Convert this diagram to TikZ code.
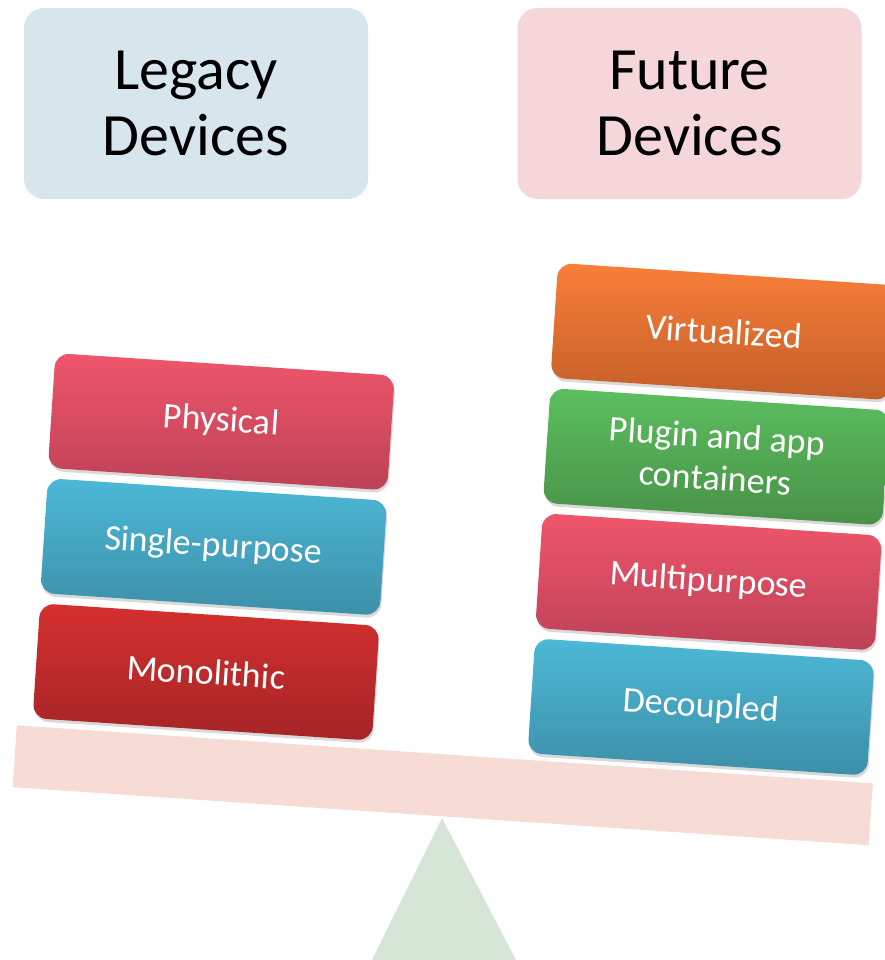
\documentclass[tikz,border=0pt]{standalone}
\usepackage{fontspec}
\setmainfont{Carlito}
\usetikzlibrary{shadows, positioning}

\definecolor{legacybg}{HTML}{D6E6EC}
\definecolor{futurebg}{HTML}{F5D6D9}
\definecolor{beamfill}{HTML}{F6DCD5}
\definecolor{fulcrumfill}{HTML}{D5E6D6}
\definecolor{rosetop}{HTML}{F0566B}
\definecolor{rosebot}{HTML}{BD4156}
\definecolor{cyantop}{HTML}{4CB9D7}
\definecolor{cyanbot}{HTML}{3D8FA8}
\definecolor{redtop}{HTML}{D5302F}
\definecolor{redbot}{HTML}{A52427}
\definecolor{orangetop}{HTML}{F97F39}
\definecolor{orangebot}{HTML}{C45E29}
\definecolor{greentop}{HTML}{5CBF5F}
\definecolor{greenbot}{HTML}{489148}

\begin{document}
\begin{tikzpicture}[x=1pt, y=-1pt,
		header/.style={rounded corners=20pt, minimum width=344pt, minimum height=191pt, align=center, font=\fontsize{60}{66}\selectfont},
		block/.style={rounded corners=14pt, minimum width=340pt, minimum height=115pt, rotate=-3.8, align=center, text=white, font=\fontsize{36}{42}\selectfont, drop shadow={shadow xshift=1pt, shadow yshift=-3pt, opacity=.3}},
		rose/.style={block, top color=rosetop, bottom color=rosebot},
		cyan/.style={block, top color=cyantop, bottom color=cyanbot},
		crimson/.style={block, top color=redtop, bottom color=redbot},
		amber/.style={block, top color=orangetop, bottom color=orangebot},
		leaf/.style={block, top color=greentop, bottom color=greenbot}]
		\useasboundingbox (0,0) rectangle (885,960);
		\clip (0,0) rectangle (885,960);
		
		% Headers
		\node[header, fill=legacybg] (legacy) at (196,103.5) {Legacy\\Devices};
		\node[header, fill=futurebg] (future) at (689.5,103.5) {Future\\Devices};
		
		% Fulcrum and beam
		\fill[fulcrumfill] (442,818) -- (372,960) -- (516,960) -- cycle;
		\node[fill=beamfill, minimum width=858pt, minimum height=62pt, inner sep=0pt, rotate=-3.88] (beam) at (442.75,785.25) {};
		
		% Legacy stack
		\node[crimson] (mono) at (206,672) {Monolithic};
		\node[cyan, above=10pt of mono] (single) {Single-purpose};
		\node[rose, above=10pt of single] (physical) {Physical};
		
		% Future stack
		\node[cyan] (decoupled) at (701,707) {Decoupled};
		\node[rose, above=10pt of decoupled] (multi) {Multipurpose};
		\node[leaf, above=10pt of multi] (plugin) {Plugin and app\\containers};
		\node[amber, above=10pt of plugin] (virtual) {Virtualized};
\end{tikzpicture}
\end{document}
